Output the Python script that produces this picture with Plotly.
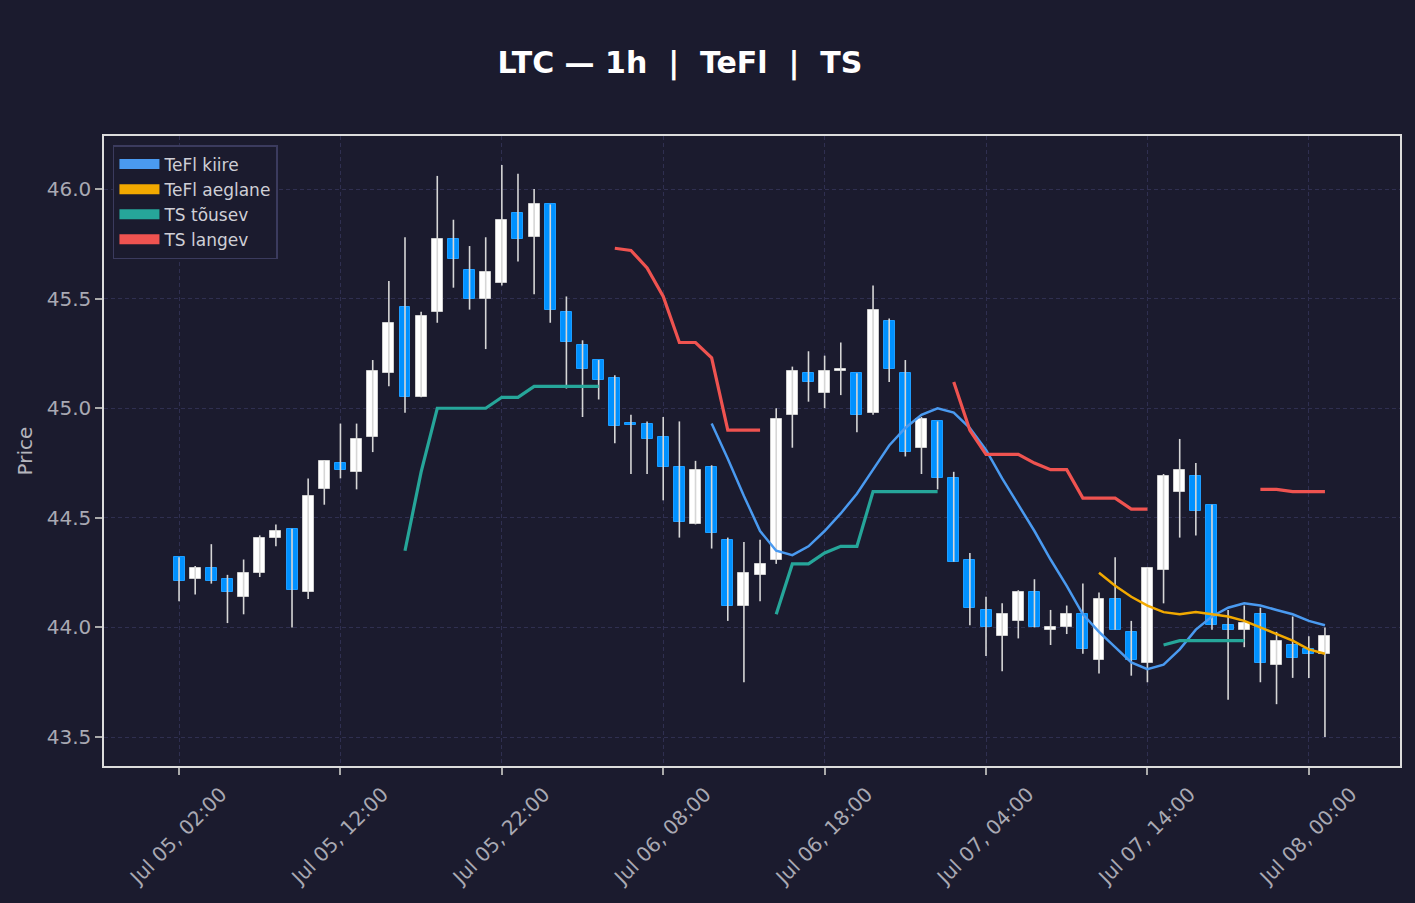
import pandas as pd
import plotly.graph_objects as go

# ---------------- data ----------------
times = pd.date_range("2024-07-05 02:00", periods=72, freq="h")

opens = [44.32, 44.22, 44.27, 44.22, 44.14, 44.25, 44.41, 44.45, 44.16, 44.63,
         44.75, 44.71, 44.87, 45.16, 45.46, 45.05, 45.44, 45.77, 45.63, 45.50,
         45.57, 45.89, 45.78, 45.93, 45.44, 45.29, 45.22, 45.14, 44.93, 44.93,
         44.87, 44.73, 44.47, 44.73, 44.40, 44.10, 44.24, 44.31, 44.97, 45.16,
         45.07, 45.17, 45.16, 44.98, 45.40, 45.16, 44.82, 44.94, 44.68, 44.31,
         44.08, 43.96, 44.03, 44.16, 43.99, 44.00, 44.06, 43.85, 44.13, 43.98,
         43.84, 44.26, 44.62, 44.69, 44.56, 44.01, 43.99, 44.06, 43.83, 43.92,
         43.90, 43.88]
highs = [44.32, 44.28, 44.38, 44.24, 44.31, 44.42, 44.47, 44.45, 44.68, 44.76,
         44.93, 44.93, 45.22, 45.58, 45.78, 45.44, 46.06, 45.86, 45.74, 45.78,
         46.11, 46.07, 46.00, 45.93, 45.51, 45.31, 45.22, 45.15, 44.97, 44.94,
         44.96, 44.94, 44.76, 44.74, 44.41, 44.39, 44.40, 45.00, 45.19, 45.26,
         45.24, 45.30, 45.16, 45.56, 45.41, 45.22, 44.96, 44.94, 44.71, 44.34,
         44.14, 44.11, 44.17, 44.22, 44.08, 44.10, 44.20, 44.16, 44.32, 44.03,
         44.27, 44.70, 44.86, 44.75, 44.56, 44.08, 44.10, 44.09, 43.98, 44.05,
         43.96, 44.00]
lows = [44.12, 44.15, 44.20, 44.02, 44.06, 44.23, 44.37, 44.00, 44.13, 44.56,
        44.68, 44.63, 44.80, 45.10, 44.98, 45.05, 45.39, 45.55, 45.45, 45.27,
        45.56, 45.67, 45.52, 45.39, 45.09, 44.96, 45.04, 44.84, 44.70, 44.70,
        44.58, 44.41, 44.47, 44.36, 44.03, 43.75, 44.12, 44.29, 44.82, 45.03,
        45.00, 45.06, 44.89, 44.97, 45.12, 44.78, 44.70, 44.63, 44.30, 44.01,
        43.87, 43.80, 43.95, 44.00, 43.92, 43.97, 43.88, 43.79, 43.99, 43.78,
        43.75, 44.11, 44.41, 44.42, 43.99, 43.67, 43.91, 43.75, 43.65, 43.77,
        43.77, 43.50]
closes = [44.21, 44.27, 44.21, 44.16, 44.25, 44.41, 44.44, 44.17, 44.60, 44.76,
          44.72, 44.86, 45.17, 45.39, 45.05, 45.42, 45.77, 45.68, 45.50, 45.62,
          45.86, 45.77, 45.93, 45.45, 45.30, 45.18, 45.13, 44.92, 44.925, 44.86,
          44.73, 44.48, 44.72, 44.43, 44.10, 44.25, 44.29, 44.95, 45.17, 45.12,
          45.17, 45.18, 44.97, 45.45, 45.18, 44.80, 44.95, 44.68, 44.30, 44.09,
          44.00, 44.06, 44.16, 44.00, 44.00, 44.06, 43.90, 44.13, 43.99, 43.85,
          44.27, 44.69, 44.72, 44.53, 44.01, 43.99, 44.02, 43.84, 43.94, 43.86,
          43.88, 43.96]

N = None
tefl_kiire = [N] * 33 + [
    44.93, 44.77, 44.60, 44.44, 44.35, 44.33, 44.37, 44.44, 44.52, 44.61,
    44.72, 44.83, 44.91, 44.97, 45.00, 44.98, 44.91, 44.81, 44.68, 44.56,
    44.44, 44.31, 44.19, 44.06, 43.98, 43.91, 43.84, 43.81, 43.83, 43.90,
    43.99, 44.05, 44.09, 44.11, 44.10, 44.08, 44.06, 44.03, 44.01]
tefl_aeglane = [N] * 57 + [
    44.25, 44.19, 44.14, 44.10, 44.07, 44.06, 44.07, 44.06, 44.05, 44.03,
    44.00, 43.97, 43.94, 43.90, 43.88]
ts_tousev = ([N] * 14 + [44.35, 44.71, 45.00, 45.00, 45.00, 45.00, 45.05, 45.05,
                         45.10, 45.10, 45.10, 45.10, 45.10]
             + [N] * 10 + [44.06, 44.29, 44.29, 44.34, 44.37, 44.37, 44.62, 44.62,
                           44.62, 44.62, 44.62]
             + [N] * 13 + [43.92, 43.94, 43.94, 43.94, 43.94, 43.94]
             + [N] * 5)
ts_langev = ([N] * 27 + [45.73, 45.72, 45.64, 45.51, 45.30, 45.30, 45.23, 44.90,
                         44.90, 44.90]
             + [N] * 11 + [45.12, 44.90, 44.79, 44.79, 44.79, 44.75, 44.72, 44.72,
                           44.59, 44.59, 44.59, 44.54, 44.54]
             + [N] * 6 + [44.63, 44.63, 44.62, 44.62, 44.62])

y_ticks = [43.5, 44.0, 44.5, 45.0, 45.5, 46.0]
x_ticks = [times[0] + pd.Timedelta(hours=10 * k) for k in range(8)]
x_ticklabels = [t.strftime("%b %d, %H:%M") for t in x_ticks]

# ---------------- styling ----------------
BG = "#1b1b2e"
UP = "#ffffff"
DOWN = "#0091ff"
WICK = "#d6d6d6"
FONT = "DejaVu Sans"

up = [c >= o for o, c in zip(opens, closes)]
body_base = [min(o, c) for o, c in zip(opens, closes)]
body_h = [max(abs(c - o), 0.008) for o, c in zip(opens, closes)]
body_col = [UP if u else DOWN for u in up]
body_line = ["#cfcfcf" if u else "#1e9dff" for u in up]

wx, wy = [], []
for t, h, l in zip(times, highs, lows):
    wx += [t, t, None]
    wy += [l, h, None]

fig = go.Figure()
fig.add_trace(go.Scatter(x=wx, y=wy, mode="lines", line=dict(color=WICK, width=1.6),
                         showlegend=False, hoverinfo="skip"))
fig.add_trace(go.Bar(x=times, y=body_h, base=body_base,
                     width=0.68 * 3600 * 1000,
                     marker=dict(color=body_col, line=dict(color=body_line, width=1)),
                     showlegend=False))

series = [("TeFl kiire", tefl_kiire, "#4a9af0", 2.5),
          ("TeFl aeglane", tefl_aeglane, "#f2a900", 2.5),
          ("TS tõusev", ts_tousev, "#26a69a", 3.2),
          ("TS langev", ts_langev, "#ef5350", 3.2)]
for name, vals, col, w in series:
    fig.add_trace(go.Scatter(x=times, y=vals, mode="lines", name=name,
                             line=dict(color=col, width=w), connectgaps=False,
                             legendgroup=name, showlegend=False))
for name, vals, col, w in series:
    fig.add_trace(go.Scatter(x=[None], y=[None], mode="lines", name=name,
                             line=dict(color=col, width=13), legendgroup=name))

x0 = times[0] - pd.Timedelta(hours=4.65)
x1 = times[0] + pd.Timedelta(hours=75.65)

axis_common = dict(showline=True, mirror=True, linecolor="#dcdcdc", linewidth=1.5,
                   showgrid=True, gridcolor="#2f2f50", griddash="4px,3px", gridwidth=1,
                   zeroline=False, ticks="outside", ticklen=7, tickwidth=1.5,
                   tickcolor="#aaaaaa",
                   tickfont=dict(family=FONT, size=20, color="#a9a9b3"))

fig.update_layout(
    width=1415, height=903,
    paper_bgcolor=BG, plot_bgcolor=BG,
    margin=dict(l=104, r=15, t=136, b=137),
    font=dict(family=FONT, color="#cccccc"),
    title=dict(text="<b>LTC — 1h\u00a0\u00a0|\u00a0\u00a0TeFl\u00a0\u00a0|\u00a0\u00a0TS</b>",
               x=680 / 1415, xanchor="center", y=1 - 62 / 903, yanchor="middle",
               font=dict(family=FONT, size=30, color="#ffffff")),
    xaxis=dict(type="date", range=[x0, x1], tickvals=x_ticks, ticktext=x_ticklabels,
               tickangle=-45, ticklabelshift=42, ticklabelstandoff=0, **axis_common),
    yaxis=dict(range=[43.368, 46.242], tickvals=y_ticks,
               ticktext=[f"{v:.1f}" for v in y_ticks],
               title=dict(text="Price", standoff=9,
                          font=dict(family=FONT, size=20, color="#b5b5bd")),
               **axis_common),
    legend=dict(x=0.0069, y=0.9857, xanchor="left", yanchor="top",
                bgcolor=BG, bordercolor="#3b3b5e", borderwidth=1.5,
                font=dict(family=FONT, size=17, color="#cfcfd6"),
                itemwidth=40, tracegroupgap=0),
    bargap=0,
    showlegend=True,
)

fig.write_html("out.html")
